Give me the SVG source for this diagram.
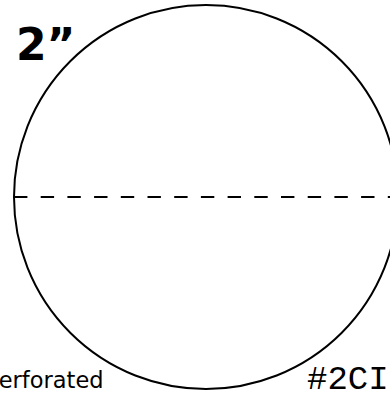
<svg xmlns="http://www.w3.org/2000/svg" width="390" height="393" viewBox="0 0 390 393">
  <style>
    .outline { fill: none; stroke: #000; stroke-width: 2; }
    .perf { fill: none; stroke: #000; stroke-width: 2; stroke-dasharray: 13.4 13.3; }
    .title { font-family: "DejaVu Sans", Verdana, sans-serif; font-weight: bold; font-size: 44px; fill: #000; }
    .note { font-family: "DejaVu Sans", Verdana, sans-serif; font-size: 22.5px; fill: #000; }
    .code { font-family: "Liberation Mono", "DejaVu Sans Mono", monospace; font-size: 34px; fill: #000; }
  </style>
  <rect width="390" height="393" fill="#fff"/>
  <g id="circle">
    <circle class="outline" cx="206" cy="197" r="192"/>
  </g>
  <g id="perforation">
    <line class="perf" x1="14" y1="197" x2="400" y2="197"/>
  </g>
  <g id="labels">
    <text class="title" x="16" y="60">2”</text>
    <text class="note" x="-14" y="388">Perforated</text>
    <text class="code" x="307" y="389">#2CIR</text>
  </g>
</svg>
